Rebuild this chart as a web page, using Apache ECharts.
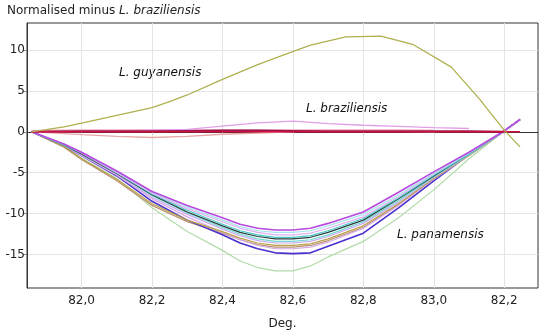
<!DOCTYPE html>
<html><head><meta charset="utf-8">
<script src="https://cdn.jsdelivr.net/npm/echarts@6/dist/echarts.min.js"></script>
<style>html,body{margin:0;padding:0;background:#fff}#c{width:542px;height:335px}</style>
</head><body><div id="c"></div>
<script>
// ---- data ----
var xTickValues = [82.0, 82.2, 82.4, 82.6, 82.8, 83.0, 83.2];
var xTickLabels = ['82,0', '82,2', '82,4', '82,6', '82,8', '83,0', '82,2'];
var yTickValues = [-15, -10, -5, 0, 5, 10];

var guyX = [81.858, 81.95, 82.0, 82.1, 82.2, 82.25, 82.3, 82.4, 82.5, 82.58, 82.65, 82.75, 82.85, 82.94, 83.05, 83.13, 83.2, 83.245];
var guyY = [0, 0.6, 1.05, 2.0, 2.95, 3.7, 4.5, 6.4, 8.2, 9.5, 10.6, 11.6, 11.7, 10.7, 7.9, 4.0, 0.2, -1.85];

var brazX = [81.858, 81.9, 82.0, 82.1, 82.2, 82.3, 82.4, 82.5, 82.6, 82.7, 82.8, 82.9, 83.0, 83.1, 83.2, 83.245];
var brazRef = [0, 0, 0, 0, 0, 0, 0, 0, 0, 0, 0, 0, 0, 0, 0, 0];
var brazAbove = [0, 0, 0.05, 0.1, 0.2, 0.3, 0.7, 1.1, 1.3, 1.0, 0.8, 0.65, 0.5, 0.4, null, null];
var brazBelow = [0, -0.1, -0.35, -0.55, -0.7, -0.55, -0.3, -0.15, 0, null, null, null, null, null, null, null];
var brazBand = [0, 0.1, 0.15, 0.15, 0.15, 0.15, 0.15, 0.15, 0.15, 0.15, 0.15, 0.15, 0.1, null, null, null];
var brazDark = [0, 0.02, 0.05, 0.05, 0.05, 0.1, 0.15, 0.15, 0.1, 0.05, 0.05, 0.05, 0.05, 0.05, 0, null];

var panX = [81.858, 81.95, 82.0, 82.1, 82.2, 82.3, 82.4, 82.45, 82.5, 82.55, 82.6, 82.65, 82.7, 82.8, 82.9, 83.0, 83.1, 83.2, 83.245];
var pan1 = [0, -1.5, -2.5, -4.8, -7.3, -9.0, -10.5, -11.3, -11.8, -12.0, -12.0, -11.8, -11.2, -9.8, -7.4, -4.9, -2.5, 0.1, 1.5];
var pan2 = [0, -1.5, -2.5, -4.9, -7.4, -9.2, -10.8, -11.6, -12.1, -12.3, -12.3, -12.1, -11.5, -10.1, -7.7, -5.1, -2.6, 0.1, 1.5];
var pan3 = [0, -1.5, -2.6, -5.0, -7.5, -9.4, -11.0, -11.8, -12.3, -12.6, -12.6, -12.4, -11.8, -10.4, -7.9, -5.2, -2.6, 0.1, 1.5];
var pan4 = [0, -1.6, -2.6, -5.0, -7.6, -9.6, -11.3, -12.1, -12.6, -12.9, -12.9, -12.7, -12.1, -10.6, -8.1, -5.3, -2.7, 0.1, 1.5];
var pan5 = [0, -1.6, -2.7, -5.1, -7.7, -9.8, -11.5, -12.3, -12.8, -13.1, -13.1, -12.9, -12.3, -10.8, -8.2, -5.4, -2.7, 0.1, 1.5];
var pan6 = [0, -1.6, -2.7, -5.1, -7.8, -9.9, -11.7, -12.5, -13.1, -13.4, -13.4, -13.2, -12.6, -11.0, -8.4, -5.5, -2.8, 0.1, 1.5];
var pan7 = [0, -1.6, -2.8, -5.2, -8.0, -10.1, -11.9, -12.7, -13.3, -13.6, -13.6, -13.4, -12.8, -11.2, -8.6, -5.6, -2.8, 0.1, 1.5];
var pan8 = [0, -1.8, -3.3, -5.8, -8.8, -10.8, -12.2, -13.0, -13.6, -13.9, -13.9, -13.7, -13.1, -11.5, -8.8, -5.7, -2.9, 0.1, 1.5];
var pan9 = [0, -1.7, -2.9, -5.3, -8.2, -10.4, -12.3, -13.2, -13.9, -14.3, -14.3, -14.1, -13.5, -11.8, -9.0, -5.8, -2.9, 0.1, 1.5];
var pan10 = [0, -1.7, -2.9, -5.4, -8.5, -10.8, -12.6, -13.6, -14.3, -14.8, -14.9, -14.8, -14.0, -12.4, -9.3, -6.0, -2.8, 0.1, 1.5];
var pan11 = [0, -1.8, -3.2, -5.7, -9.3, -12.2, -14.5, -15.8, -16.6, -17.0, -17.0, -16.4, -15.3, -13.4, -10.5, -7.1, -3.3, 0.1, 1.5];
var pan12 = [0, -1.9, -3.4, -6.0, -9.0, -11.0, -12.4, -13.2, -13.8, -14.1, -14.1, -13.9, -13.3, -11.7, -8.9, -5.8, -2.9, 0.1, 1.5];

function pairs(xs, ys) {
  var out = [];
  for (var i = 0; i < xs.length; i++) { if (ys[i] !== null) out.push([xs[i], ys[i]]); }
  return out;
}
function line(xs, ys, color, width) {
  return { type: 'line', data: pairs(xs, ys), showSymbol: false, symbol: 'none',
    lineStyle: { color: color, width: width }, itemStyle: { color: color }, z: 2 };
}

var series = [
  line(brazX, brazBand, '#f4c0d0', 3),
  line(brazX, brazBelow, '#e6a8a8', 1.3),
  line(brazX, brazAbove, '#e0a0e8', 1.3),
  line(panX, pan11, '#b0dca8', 1.2),
  line(panX, pan12, '#b89070', 1.2),
  line(panX, pan10, '#4a30d0', 1.6),
  line(panX, pan9, '#d8a8e8', 1.2),
  line(panX, pan8, '#b8a048', 1.2),
  line(panX, pan7, '#c8a8f0', 1.2),
  line(panX, pan6, '#70d8d0', 1.2),
  line(panX, pan5, '#283c3c', 1.2),
  line(panX, pan4, '#48c8c8', 1.2),
  line(panX, pan3, '#e0b0f0', 1.2),
  line(panX, pan2, '#a8e4ec', 1.2),
  line(panX, pan1, '#b848e0', 1.6),
  line(brazX, brazDark, '#961850', 2),
  line(brazX, brazRef, '#d0103c', 1.5),
  line(guyX, guyY, '#b0b050', 1.3)
];

var chart = echarts.init(document.getElementById('c'), null, { renderer: 'canvas' });
var font = 'DejaVu Sans';
chart.setOption({
  animation: false,
  backgroundColor: '#fff',
  textStyle: { fontFamily: font },
  title: {
    text: 'Normalised minus {i|L. braziliensis}',
    left: 2, top: 0,
    textStyle: { fontFamily: font, fontSize: 12, fontWeight: 'normal', color: '#222',
      rich: { i: { fontFamily: font, fontSize: 12, fontStyle: 'italic', color: '#222' } } }
  },
  grid: { left: 27, right: 4, top: 23, bottom: 44, show: true, borderColor: '#333', borderWidth: 1, backgroundColor: '#fff' },
  xAxis: {
    type: 'value', min: 81.845, max: 83.296,
    name: 'Deg.', nameLocation: 'middle', nameGap: 30,
    nameTextStyle: { fontFamily: font, fontSize: 12, color: '#222' },
    axisLine: { show: true, lineStyle: { color: '#333' } },
    axisTick: { show: true, length: 3, customValues: xTickValues, lineStyle: { color: '#ccc' } },
    axisLabel: { customValues: xTickValues, fontFamily: font, fontSize: 12, color: '#222', margin: 7,
      formatter: function (v) {
        for (var i = 0; i < xTickValues.length; i++) if (Math.abs(xTickValues[i] - v) < 1e-6) return xTickLabels[i];
        return '';
      } },
    splitLine: { show: true, lineStyle: { color: '#e4e4e4' } }
  },
  yAxis: {
    type: 'value', min: -19.1, max: 13.3,
    axisLine: { show: true, lineStyle: { color: '#333' } },
    axisTick: { show: true, length: 4, customValues: yTickValues, lineStyle: { color: '#888' } },
    axisLabel: { customValues: yTickValues, fontFamily: font, fontSize: 12, color: '#222', margin: 2 },
    splitLine: { show: true, lineStyle: { color: '#e4e4e4' } }
  },
  graphic: [
    { type: 'text', left: 119, top: 67, style: { text: 'L. guyanensis', font: 'italic 12px "DejaVu Sans"', fill: '#111' } },
    { type: 'text', left: 306, top: 103, style: { text: 'L. braziliensis', font: 'italic 12px "DejaVu Sans"', fill: '#111' } },
    { type: 'text', left: 397, top: 229, style: { text: 'L. panamensis', font: 'italic 12px "DejaVu Sans"', fill: '#111' } }
  ],
  series: series
});
</script></body></html>
